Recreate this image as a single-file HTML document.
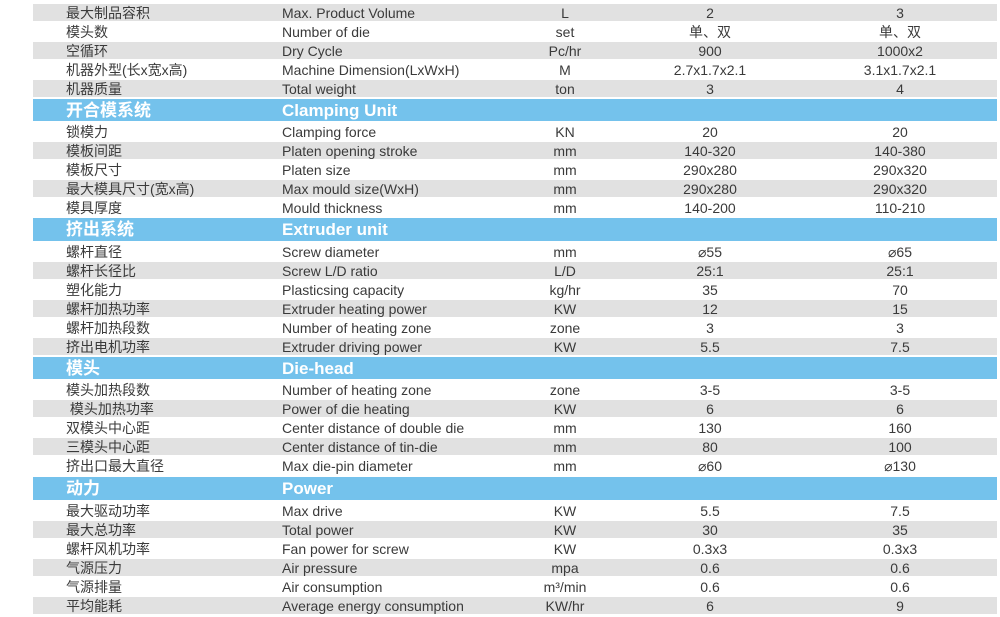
<!DOCTYPE html>
<html><head><meta charset="utf-8"><style>
body{margin:0;width:1000px;height:617px;background:#fff;position:relative;overflow:hidden;font-family:"Liberation Sans","Noto Sans CJK SC",sans-serif;color:#3a3a3a;}
.r{position:absolute;left:33px;width:964px;font-size:14px;}
.r.g::before{content:"";position:absolute;left:0;right:0;top:1px;bottom:1px;background:#e1e1e1;}
.r span{position:absolute;top:1px;line-height:19px;white-space:nowrap;}
.c1{left:33px}.c2{left:249px}
.c3{left:482px;width:100px;text-align:center}
.c4{left:627px;width:100px;text-align:center}
.c5{left:817px;width:100px;text-align:center}
.h{background:#74c2ec;color:#fff;font-weight:bold;font-size:17px;}
.h span{line-height:22px;top:1px}
</style></head><body>
<div class="r g" style="top:3px;height:19px"><span class="c1">最大制品容积</span><span class="c2">Max. Product Volume</span><span class="c3">L</span><span class="c4">2</span><span class="c5">3</span></div>
<div class="r" style="top:22px;height:19px"><span class="c1">模头数</span><span class="c2">Number of die</span><span class="c3">set</span><span class="c4">单、双</span><span class="c5">单、双</span></div>
<div class="r g" style="top:41px;height:19px"><span class="c1">空循环</span><span class="c2">Dry Cycle</span><span class="c3">Pc/hr</span><span class="c4">900</span><span class="c5">1000x2</span></div>
<div class="r" style="top:60px;height:19px"><span class="c1">机器外型(长x宽x高)</span><span class="c2">Machine Dimension(LxWxH)</span><span class="c3">M</span><span class="c4">2.7x1.7x2.1</span><span class="c5">3.1x1.7x2.1</span></div>
<div class="r g" style="top:79px;height:19px"><span class="c1">机器质量</span><span class="c2">Total weight</span><span class="c3">ton</span><span class="c4">3</span><span class="c5">4</span></div>
<div class="r h" style="top:99px;height:22px"><span class="c1">开合模系统</span><span class="c2">Clamping Unit</span></div>
<div class="r" style="top:122px;height:19px"><span class="c1">锁模力</span><span class="c2">Clamping force</span><span class="c3">KN</span><span class="c4">20</span><span class="c5">20</span></div>
<div class="r g" style="top:141px;height:19px"><span class="c1">模板间距</span><span class="c2">Platen opening stroke</span><span class="c3">mm</span><span class="c4">140-320</span><span class="c5">140-380</span></div>
<div class="r" style="top:160px;height:19px"><span class="c1">模板尺寸</span><span class="c2">Platen size</span><span class="c3">mm</span><span class="c4">290x280</span><span class="c5">290x320</span></div>
<div class="r g" style="top:179px;height:19px"><span class="c1">最大模具尺寸(宽x高)</span><span class="c2">Max mould size(WxH)</span><span class="c3">mm</span><span class="c4">290x280</span><span class="c5">290x320</span></div>
<div class="r" style="top:198px;height:19px"><span class="c1">模具厚度</span><span class="c2">Mould thickness</span><span class="c3">mm</span><span class="c4">140-200</span><span class="c5">110-210</span></div>
<div class="r h" style="top:218px;height:23px"><span class="c1">挤出系统</span><span class="c2">Extruder unit</span></div>
<div class="r" style="top:242px;height:19px"><span class="c1">螺杆直径</span><span class="c2">Screw diameter</span><span class="c3">mm</span><span class="c4">⌀55</span><span class="c5">⌀65</span></div>
<div class="r g" style="top:261px;height:19px"><span class="c1">螺杆长径比</span><span class="c2">Screw L/D ratio</span><span class="c3">L/D</span><span class="c4">25:1</span><span class="c5">25:1</span></div>
<div class="r" style="top:280px;height:19px"><span class="c1">塑化能力</span><span class="c2">Plasticsing capacity</span><span class="c3">kg/hr</span><span class="c4">35</span><span class="c5">70</span></div>
<div class="r g" style="top:299px;height:19px"><span class="c1">螺杆加热功率</span><span class="c2">Extruder heating power</span><span class="c3">KW</span><span class="c4">12</span><span class="c5">15</span></div>
<div class="r" style="top:318px;height:19px"><span class="c1">螺杆加热段数</span><span class="c2">Number of heating zone</span><span class="c3">zone</span><span class="c4">3</span><span class="c5">3</span></div>
<div class="r g" style="top:337px;height:19px"><span class="c1">挤出电机功率</span><span class="c2">Extruder driving power</span><span class="c3">KW</span><span class="c4">5.5</span><span class="c5">7.5</span></div>
<div class="r h" style="top:357px;height:22px"><span class="c1">模头</span><span class="c2">Die-head</span></div>
<div class="r" style="top:380px;height:19px"><span class="c1">模头加热段数</span><span class="c2">Number of heating zone</span><span class="c3">zone</span><span class="c4">3-5</span><span class="c5">3-5</span></div>
<div class="r g" style="top:399px;height:19px"><span class="c1">&nbsp;模头加热功率</span><span class="c2">Power of die heating</span><span class="c3">KW</span><span class="c4">6</span><span class="c5">6</span></div>
<div class="r" style="top:418px;height:19px"><span class="c1">双模头中心距</span><span class="c2">Center distance of double die</span><span class="c3">mm</span><span class="c4">130</span><span class="c5">160</span></div>
<div class="r g" style="top:437px;height:19px"><span class="c1">三模头中心距</span><span class="c2">Center distance of tin-die</span><span class="c3">mm</span><span class="c4">80</span><span class="c5">100</span></div>
<div class="r" style="top:456px;height:19px"><span class="c1">挤出口最大直径</span><span class="c2">Max die-pin diameter</span><span class="c3">mm</span><span class="c4">⌀60</span><span class="c5">⌀130</span></div>
<div class="r h" style="top:477px;height:23px"><span class="c1">动力</span><span class="c2">Power</span></div>
<div class="r" style="top:501px;height:19px"><span class="c1">最大驱动功率</span><span class="c2">Max drive</span><span class="c3">KW</span><span class="c4">5.5</span><span class="c5">7.5</span></div>
<div class="r g" style="top:520px;height:19px"><span class="c1">最大总功率</span><span class="c2">Total power</span><span class="c3">KW</span><span class="c4">30</span><span class="c5">35</span></div>
<div class="r" style="top:539px;height:19px"><span class="c1">螺杆风机功率</span><span class="c2">Fan power for screw</span><span class="c3">KW</span><span class="c4">0.3x3</span><span class="c5">0.3x3</span></div>
<div class="r g" style="top:558px;height:19px"><span class="c1">气源压力</span><span class="c2">Air pressure</span><span class="c3">mpa</span><span class="c4">0.6</span><span class="c5">0.6</span></div>
<div class="r" style="top:577px;height:19px"><span class="c1">气源排量</span><span class="c2">Air consumption</span><span class="c3">m³/min</span><span class="c4">0.6</span><span class="c5">0.6</span></div>
<div class="r g" style="top:596px;height:19px"><span class="c1">平均能耗</span><span class="c2">Average energy consumption</span><span class="c3">KW/hr</span><span class="c4">6</span><span class="c5">9</span></div>
</body></html>
